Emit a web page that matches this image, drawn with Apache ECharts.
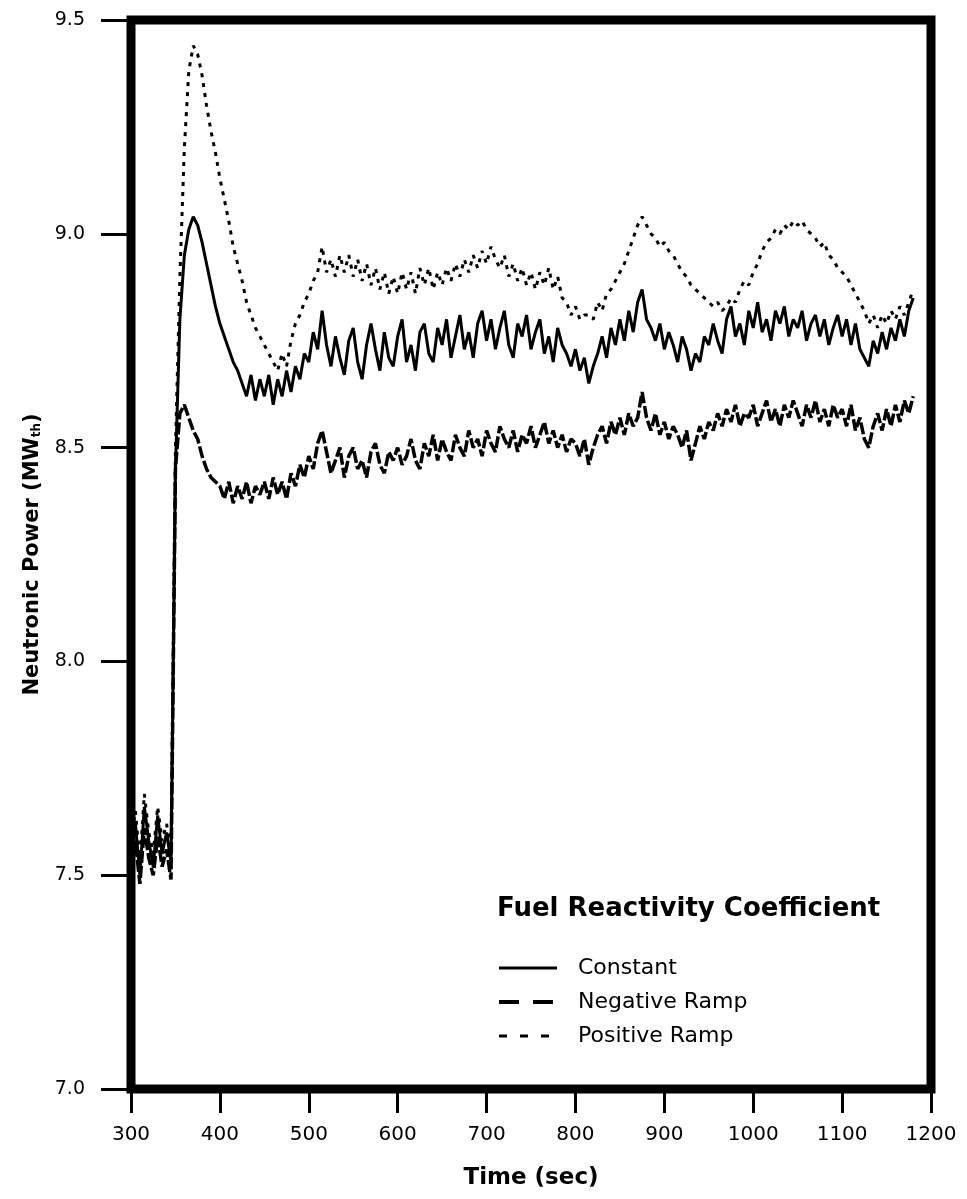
<!DOCTYPE html>
<html>
<head>
<meta charset="utf-8">
<script src="https://cdn.jsdelivr.net/npm/echarts@6/dist/echarts.min.js"></script>
<style>
html,body{margin:0;padding:0;background:#fff;}
#chart{width:967px;height:1199px;}
</style>
</head>
<body>
<div id="chart"></div>
<script>
// Time axis (sec), sampled every 5 s
const times = [];
for (let t = 300; t <= 1180; t += 5) times.push(t);

const xTicks = [300, 400, 500, 600, 700, 800, 900, 1000, 1100, 1200];
const yTicks = [7.0, 7.5, 8.0, 8.5, 9.0, 9.5];
const seriesNames = ['Constant', 'Negative Ramp', 'Positive Ramp'];
const legendTitle = 'Fuel Reactivity Coefficient';

// Neutronic power (MWth)
const constant = [
  7.55, 7.62, 7.50, 7.66, 7.58, 7.52, 7.64, 7.55, 7.60, 7.53,
  8.45, 8.80, 8.95, 9.01, 9.04, 9.02, 8.98, 8.93, 8.88, 8.83,
  8.79, 8.76, 8.73, 8.70, 8.68, 8.65, 8.62, 8.67, 8.61, 8.66,
  8.62, 8.67, 8.60, 8.66, 8.62, 8.68, 8.63, 8.69, 8.66, 8.72,
  8.70, 8.77, 8.73, 8.82, 8.74, 8.69, 8.76, 8.71, 8.67, 8.75,
  8.78, 8.70, 8.66, 8.74, 8.79, 8.73, 8.68, 8.77, 8.71, 8.69,
  8.76, 8.80, 8.70, 8.74, 8.68, 8.77, 8.79, 8.72, 8.70, 8.78,
  8.74, 8.80, 8.71, 8.76, 8.81, 8.73, 8.77, 8.71, 8.79, 8.82,
  8.75, 8.80, 8.73, 8.78, 8.82, 8.74, 8.71, 8.79, 8.76, 8.81,
  8.73, 8.77, 8.80, 8.72, 8.76, 8.70, 8.78, 8.74, 8.72, 8.69,
  8.73, 8.68, 8.71, 8.65, 8.69, 8.72, 8.76, 8.71, 8.78, 8.74,
  8.80, 8.75, 8.82, 8.77, 8.84, 8.87, 8.80, 8.78, 8.75, 8.79,
  8.73, 8.77, 8.74, 8.70, 8.76, 8.73, 8.68, 8.72, 8.70, 8.76,
  8.74, 8.79, 8.75, 8.72, 8.80, 8.83, 8.76, 8.79, 8.74, 8.82,
  8.78, 8.84, 8.77, 8.80, 8.75, 8.82, 8.79, 8.83, 8.76, 8.80,
  8.78, 8.82, 8.75, 8.79, 8.81, 8.76, 8.80, 8.74, 8.78, 8.81,
  8.76, 8.80, 8.74, 8.79, 8.73, 8.71, 8.69, 8.75, 8.72, 8.77,
  8.73, 8.78, 8.75, 8.80, 8.76, 8.82, 8.85
];

const negativeRamp = [
  7.52, 7.58, 7.48, 7.61, 7.54, 7.50, 7.59, 7.52, 7.56, 7.49,
  8.45, 8.58, 8.60, 8.57, 8.54, 8.52, 8.48, 8.45, 8.43, 8.42,
  8.41, 8.38, 8.42, 8.37, 8.41, 8.38, 8.42, 8.37, 8.41, 8.39,
  8.42, 8.38, 8.43, 8.39, 8.42, 8.38, 8.44, 8.41, 8.46, 8.43,
  8.48, 8.45, 8.51, 8.54, 8.49, 8.44, 8.47, 8.50, 8.43, 8.48,
  8.50, 8.45, 8.47, 8.43, 8.49, 8.51, 8.46, 8.44, 8.49, 8.47,
  8.50, 8.46, 8.48, 8.52, 8.47, 8.45, 8.51, 8.48, 8.53, 8.47,
  8.52, 8.49, 8.47, 8.53, 8.50, 8.48, 8.54, 8.50, 8.52, 8.48,
  8.54, 8.51, 8.49, 8.55, 8.52, 8.50, 8.54, 8.49, 8.53, 8.51,
  8.55, 8.50, 8.53, 8.56, 8.51, 8.54, 8.50, 8.53, 8.49, 8.52,
  8.51, 8.48, 8.52, 8.46, 8.50, 8.53, 8.55, 8.51, 8.56, 8.53,
  8.57, 8.53, 8.58, 8.55, 8.57, 8.63, 8.57, 8.54, 8.58, 8.53,
  8.56, 8.52, 8.55, 8.53, 8.50, 8.54, 8.47, 8.51, 8.55, 8.52,
  8.56, 8.54, 8.58, 8.55, 8.59, 8.56, 8.60, 8.55, 8.58, 8.57,
  8.60, 8.55, 8.58, 8.61, 8.56, 8.59, 8.55, 8.60, 8.57, 8.61,
  8.58, 8.55, 8.60, 8.57, 8.61, 8.56, 8.59, 8.55, 8.60, 8.57,
  8.59, 8.55, 8.60, 8.54, 8.57, 8.52, 8.50, 8.55, 8.58, 8.54,
  8.59, 8.55, 8.60, 8.56, 8.61, 8.58, 8.62
];

const positiveRamp = [
  7.58, 7.65, 7.53, 7.69, 7.60, 7.55, 7.66, 7.58, 7.62, 7.56,
  8.50, 8.90, 9.20, 9.38, 9.44, 9.42, 9.37, 9.30, 9.24, 9.19,
  9.13, 9.08, 9.03, 8.97, 8.93, 8.89, 8.84, 8.81, 8.78, 8.76,
  8.74, 8.72, 8.70, 8.68, 8.72, 8.69, 8.75, 8.79, 8.81, 8.84,
  8.86, 8.89, 8.91, 8.97, 8.91, 8.94, 8.90, 8.95, 8.91, 8.95,
  8.90, 8.94, 8.89, 8.93, 8.88, 8.92, 8.87, 8.91, 8.86, 8.90,
  8.86, 8.91, 8.87, 8.91, 8.86, 8.92, 8.88, 8.92, 8.87, 8.91,
  8.88, 8.92, 8.89, 8.93, 8.90, 8.94, 8.91, 8.95, 8.92, 8.96,
  8.93, 8.97, 8.94, 8.92, 8.95, 8.90, 8.93, 8.89, 8.92, 8.88,
  8.91, 8.87, 8.91, 8.88, 8.92, 8.87, 8.90, 8.85, 8.84, 8.81,
  8.83, 8.80, 8.81, 8.81, 8.80, 8.84, 8.82, 8.86, 8.87, 8.89,
  8.91, 8.93, 8.96, 8.99, 9.02, 9.04, 9.02, 9.00, 8.99, 8.97,
  8.98, 8.96, 8.95, 8.93, 8.91, 8.90, 8.88, 8.87, 8.86, 8.85,
  8.84, 8.83, 8.84, 8.82, 8.83, 8.85, 8.84, 8.87, 8.89, 8.88,
  8.91, 8.93, 8.96, 8.98, 8.99, 9.01, 9.00, 9.02, 9.01, 9.03,
  9.02, 9.03, 9.01, 9.00, 8.99, 8.97, 8.98, 8.95, 8.94, 8.92,
  8.91, 8.90, 8.88, 8.86, 8.84, 8.82, 8.79, 8.81, 8.78, 8.81,
  8.79, 8.82, 8.80, 8.83, 8.81, 8.84, 8.87
];

const pair = (vals) => vals.map((v, i) => [times[i], v]);

const FONT = 'DejaVu Sans';
const chart = echarts.init(document.getElementById('chart'));
chart.setOption({
  animation: false,
  backgroundColor: '#fff',
  color: ['#000', '#000', '#000'],
  grid: {
    left: 131, right: 36, top: 20, bottom: 110,
    show: true, borderColor: '#000', borderWidth: 9, backgroundColor: 'transparent'
  },
  xAxis: {
    type: 'value', min: xTicks[0], max: xTicks[xTicks.length - 1], interval: 100,
    axisLine: { show: false },
    axisTick: { show: true, inside: false, length: 24, lineStyle: { color: '#000', width: 3 } },
    axisLabel: { color: '#000', fontSize: 20, fontFamily: FONT, margin: 36,
      formatter: (v) => String(v) },
    splitLine: { show: false },
    name: 'Time (sec)', nameLocation: 'middle', nameGap: 78,
    nameTextStyle: { color: '#000', fontSize: 23, fontWeight: 'bold', fontFamily: FONT }
  },
  yAxis: {
    type: 'value', min: yTicks[0], max: yTicks[yTicks.length - 1], interval: 0.5,
    axisLine: { show: false },
    axisTick: { show: true, inside: false, length: 30, lineStyle: { color: '#000', width: 3 } },
    axisLabel: { color: '#000', fontSize: 19, fontFamily: FONT, margin: 46,
      formatter: (v) => v.toFixed(1) },
    splitLine: { show: false },
    name: 'Neutronic Power (MW{sub|th})', nameLocation: 'middle', nameGap: 88, nameRotate: 90,
    nameTextStyle: { color: '#000', fontSize: 21, fontWeight: 'bold', fontFamily: FONT,
      rich: { sub: { fontSize: 12, fontWeight: 'bold', fontFamily: FONT, verticalAlign: 'bottom', padding: [8, 0, 0, 0] } } }
  },
  legend: {
    orient: 'vertical', left: 497, top: 957, padding: 0,
    itemWidth: 58, itemHeight: 14, itemGap: 12,
    textStyle: { color: '#000', fontSize: 22, fontFamily: FONT, padding: [0, 0, 0, 16] },
    data: [
      { name: seriesNames[0], itemStyle: { opacity: 0 }, lineStyle: { type: 'solid', width: 3, color: '#000' } },
      { name: seriesNames[1], itemStyle: { opacity: 0 }, lineStyle: { type: [20, 14], width: 4, color: '#000' } },
      { name: seriesNames[2], itemStyle: { opacity: 0 }, lineStyle: { type: [8, 13], width: 3, color: '#000' } }
    ]
  },
  graphic: [{
    type: 'text', left: 497, top: 896,
    style: { text: legendTitle, fill: '#000', font: 'bold 26px "DejaVu Sans"' }
  }],
  series: [
    { name: seriesNames[0], type: 'line', data: pair(constant), symbol: 'none', showSymbol: false,
      itemStyle: { color: '#000' },
      lineStyle: { color: '#000', width: 3, type: 'solid' }, z: 3 },
    { name: seriesNames[1], type: 'line', data: pair(negativeRamp), symbol: 'none', showSymbol: false,
      itemStyle: { color: '#000' },
      lineStyle: { color: '#000', width: 3.5, type: [12, 3] }, z: 3 },
    { name: seriesNames[2], type: 'line', data: pair(positiveRamp), symbol: 'none', showSymbol: false,
      itemStyle: { color: '#000' },
      lineStyle: { color: '#000', width: 3, type: [4, 6] }, z: 3 }
  ]
});
</script>
</body>
</html>
